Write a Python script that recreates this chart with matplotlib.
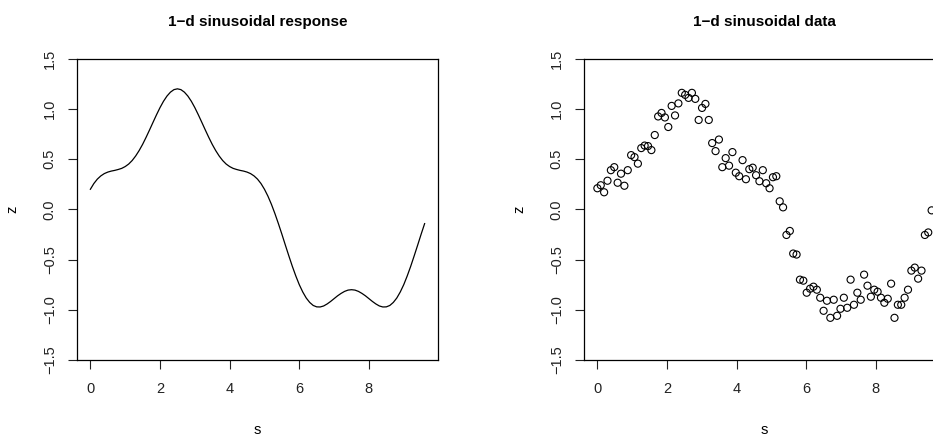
import matplotlib
matplotlib.use("Agg")
import matplotlib.pyplot as plt

plt.rcParams['font.family'] = ['Liberation Sans', 'DejaVu Sans']

# smooth response, read every 0.1 along s
s_curve = [i / 10 for i in range(97)]
z_curve = [0.200, 0.257, 0.301, 0.333, 0.356, 0.371, 0.381, 0.388, 0.397, 0.408,
           0.426, 0.451, 0.486, 0.531, 0.585, 0.647, 0.717, 0.791, 0.867, 0.942,
           1.013, 1.076, 1.128, 1.167, 1.192, 1.200, 1.192, 1.167, 1.128, 1.076,
           1.013, 0.942, 0.867, 0.791, 0.717, 0.647, 0.585, 0.531, 0.486, 0.451,
           0.426, 0.408, 0.397, 0.388, 0.381, 0.371, 0.356, 0.333, 0.301, 0.257,
           0.200, 0.131, 0.050, -0.042, -0.142, -0.247, -0.356, -0.463, -0.567, -0.663,
           -0.750, -0.823, -0.883, -0.927, -0.957, -0.971, -0.972, -0.962, -0.942, -0.917,
           -0.889, -0.861, -0.837, -0.817, -0.804, -0.800, -0.804, -0.817, -0.837, -0.861,
           -0.889, -0.917, -0.942, -0.962, -0.972, -0.971, -0.957, -0.927, -0.883, -0.823,
           -0.750, -0.663, -0.567, -0.463, -0.356, -0.247, -0.142]

# noisy observations, 100 points evenly spaced from 0 to 9.6
s_data = [i * 9.6 / 99 for i in range(100)]
z_data = [0.21, 0.24, 0.17, 0.285, 0.39, 0.42, 0.265, 0.355, 0.235, 0.39,
          0.54, 0.52, 0.455, 0.61, 0.635, 0.63, 0.59, 0.74, 0.925, 0.96,
          0.915, 0.82, 1.03, 0.935, 1.055, 1.16, 1.14, 1.11, 1.16, 1.10,
          0.89, 1.01, 1.05, 0.89, 0.66, 0.58, 0.695, 0.42, 0.51, 0.435,
          0.57, 0.365, 0.33, 0.49, 0.30, 0.40, 0.415, 0.34, 0.28, 0.39,
          0.26, 0.21, 0.32, 0.33, 0.08, 0.02, -0.255, -0.215, -0.44, -0.45,
          -0.70, -0.71, -0.83, -0.79, -0.77, -0.80, -0.88, -1.01, -0.91, -1.08,
          -0.90, -1.06, -0.99, -0.88, -0.98, -0.70, -0.95, -0.83, -0.90, -0.65,
          -0.76, -0.87, -0.80, -0.82, -0.88, -0.93, -0.89, -0.74, -1.08, -0.95,
          -0.95, -0.88, -0.80, -0.61, -0.58, -0.69, -0.61, -0.255, -0.23, -0.01]

x_ticks = [0, 2, 4, 6, 8]
y_ticks = [-1.5, -1.0, -0.5, 0.0, 0.5, 1.0, 1.5]
y_labels = ['\u22121.5', '\u22121.0', '\u22120.5', '0.0', '0.5', '1.0', '1.5']

W, H = 933, 438
fig = plt.figure(figsize=(W / 100, H / 100), dpi=100)
ax1 = fig.add_axes([77 / W, 78 / H, 361 / W, 301.3 / H])
ax2 = fig.add_axes([584 / W, 78 / H, 361 / W, 301.3 / H])  # runs past the right edge


def style(ax, title):
    ax.set_xlim(-0.384, 9.984)
    ax.set_ylim(-1.5, 1.5)
    ax.set_xticks(x_ticks)
    ax.set_xticklabels([str(t) for t in x_ticks])
    ax.set_yticks(y_ticks)
    ax.set_yticklabels(y_labels, rotation=90, va='center')
    ax.tick_params(axis='both', direction='out', length=6.5, width=0.8,
                   labelsize=10.5, colors='#222222')
    ax.tick_params(axis='x', pad=9)
    ax.tick_params(axis='y', pad=8)
    for sp in ax.spines.values():
        sp.set_linewidth(0.9)
        sp.set_color('black')
    ax.set_xlabel('s', fontsize=10.5, labelpad=20)
    ax.set_ylabel('z', fontsize=10.5, labelpad=17)
    ax.text(0.5, 1.122, title, transform=ax.transAxes, ha='center', va='center',
            fontsize=11, fontweight='bold')


ax1.plot(s_curve, z_curve, color='black', linewidth=0.9)
style(ax1, '1\u2212d sinusoidal response')

ax2.scatter(s_data, z_data, s=26, facecolors='none', edgecolors='black', linewidths=0.8)
style(ax2, '1\u2212d sinusoidal data')

fig.savefig('out.png', dpi=100)
